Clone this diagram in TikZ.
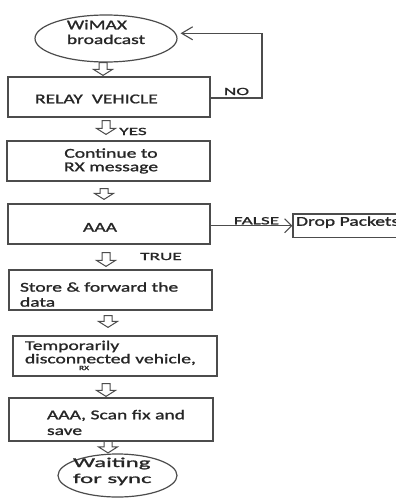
\documentclass[tikz,border=0pt]{standalone}
\usepackage{fontspec}
\setmainfont{Carlito}[FakeStretch=1.45,FakeBold=1.3]
\newfontfamily\widefont{Carlito}[FakeStretch=1.84,FakeBold=1.3]
\newfontfamily\lblfont{Carlito}[FakeStretch=1.75,FakeBold=1.3]
\usetikzlibrary{calc,arrows.meta,shapes.geometric}
\definecolor{linec}{gray}{0.3}
\definecolor{txtc}{gray}{0.15}
\newcommand\vst[2]{\rule[-#2pt]{0pt}{\dimexpr #1pt+#2pt\relax}}
\newcommand\ind[1]{\rule{#1pt}{0pt}}
\begin{document}
\begin{tikzpicture}[x=1pt,y=-1pt,
  bskip/.style={font={\fontsize{13.5}{#1}\selectfont\lineskiplimit-30pt\relax}},
  boxst/.style={draw=linec, line width=1.2pt, rectangle, inner sep=0pt, align=left, text=txtc},
  ellst/.style={draw=linec, line width=1.2pt, ellipse, inner xsep=0pt, align=left, text=txtc},
  lbl/.style={font={\lblfont\fontsize{11}{13}\selectfont}, text=txtc, inner sep=0pt},
  conn/.style={draw=linec, line width=1.1pt},
  blockarrow/.style={draw=linec, line width=1pt, to path={
    let \p1=(\tikztostart), \p2=(\tikztotarget) in
    (\x1-4pt,\y1) -- (\x1+4pt,\y1) -- (\x1+4pt,\y2+6pt) -- (\x1+9.5pt,\y2+6pt)
    -- (\x1,\y2) -- (\x1-9.5pt,\y2+6pt) -- (\x1-4pt,\y2+6pt) -- cycle}}
]
\fill[white] (0,0) rectangle (396,501);
\useasboundingbox (0,0) rectangle (396,501);

% nodes
\node[ellst, bskip=14.7, minimum width=142pt, minimum height=47pt, inner ysep=-4pt] (e1) at (106,38.5)
  {\vst{10}{0}WiMAX\\broadcast\vst{0}{13.7}};
\node[boxst, bskip=15, text width=202pt, minimum height=40pt] (relay) at (109,97)
  {\vst{16.6}{4}\ind{27}RELAY\ \ VEHICLE};
\node[boxst, bskip=13.5, align=center, text width=203pt, minimum height=40pt] (cont) at (108.5,161)
  {\vst{10.9}{0}\ind{5}Continue to\\\ind{5}RX message\vst{0}{4}};
\node[boxst, bskip=15, text width=202pt, minimum height=40pt] (aaa) at (109,224)
  {\vst{19.4}{4}\ind{75}AAA};
\node[boxst, bskip=15, text width=127pt, minimum height=23.5pt] (drop) at (356.5,225.75)
  {\vst{10}{10}\ind{3}Drop Packets};
\node[boxst, bskip=15, text width=203pt, minimum height=40pt] (store) at (110.5,290)
  {\vst{18.4}{0}\ind{11}Store \& forward the\\\ind{11}data};
\node[boxst, bskip=13.3, text width=204pt, minimum height=40pt] (temp) at (115,356)
  {\vst{10}{0}\ind{12}Temporarily\\\ind{12}disconnected vehicle,\\[-6.6pt]\ind{66}{\fontsize{6.5}{8}\selectfont RX}\vst{0}{2}};
\node[boxst, bskip=15.7, text width=204pt, minimum height=43pt] (scan) at (111,419.5)
  {\vst{15.3}{0}\ind{38}AAA, Scan fix and\\\ind{38}save};
\node[ellst, font={\widefont\fontsize{13.5}{16}\selectfont\lineskiplimit-30pt\relax},
  minimum width=119pt, minimum height=43pt, inner ysep=-5pt, inner xsep=-5pt] (e2) at (117.5,475.5)
  {\vst{10}{0}Waiting\rule{11.5pt}{0pt}\\for sync\vst{0}{11}};

% labels
\node[lbl, anchor=base] (nolbl) at (236.5,95) {NO};
\node[lbl, anchor=base] (yeslbl) at (133,135) {YES};
\node[lbl, anchor=base] (falselbl) at (256.5,224.3) {FALSE};
\node[lbl, anchor=base] (truelbl) at (161,260) {TRUE};

% hollow arrows
\draw[blockarrow] ([xshift=-3pt]e1.south) to ([yshift=1pt]relay.north);
\draw[blockarrow] ([xshift=-3pt,yshift=-3pt]relay.south) to ([yshift=6pt]cont.north);
\draw[blockarrow] ([xshift=-4.5pt,yshift=-7pt]cont.south) to ([yshift=4pt]aaa.north);
\draw[blockarrow] ([xshift=-3pt,yshift=-8pt]aaa.south) to ([yshift=3pt]store.north);
\draw[blockarrow] ([xshift=-2.5pt,yshift=-5pt]store.south) to ([yshift=8pt]temp.north);
\draw[blockarrow] ([xshift=-9pt,yshift=-7pt]temp.south) to ([yshift=1pt]scan.north);
\draw[blockarrow] ([xshift=-3pt,yshift=0.5pt]scan.south) to ([yshift=0.5pt]e2.north);

% connectors
\coordinate (loopc) at (262,33.3);
\draw[conn, -{Straight Barb[length=11pt,width=13pt]}, shorten >=3pt]
  ([yshift=-1pt]relay.east) -| (loopc) -- (e1.east |- loopc);
\draw[conn, -{Straight Barb[length=7pt,width=14pt]}] (aaa.east |- drop.west) -- (drop.west);
\end{tikzpicture}
\end{document}
